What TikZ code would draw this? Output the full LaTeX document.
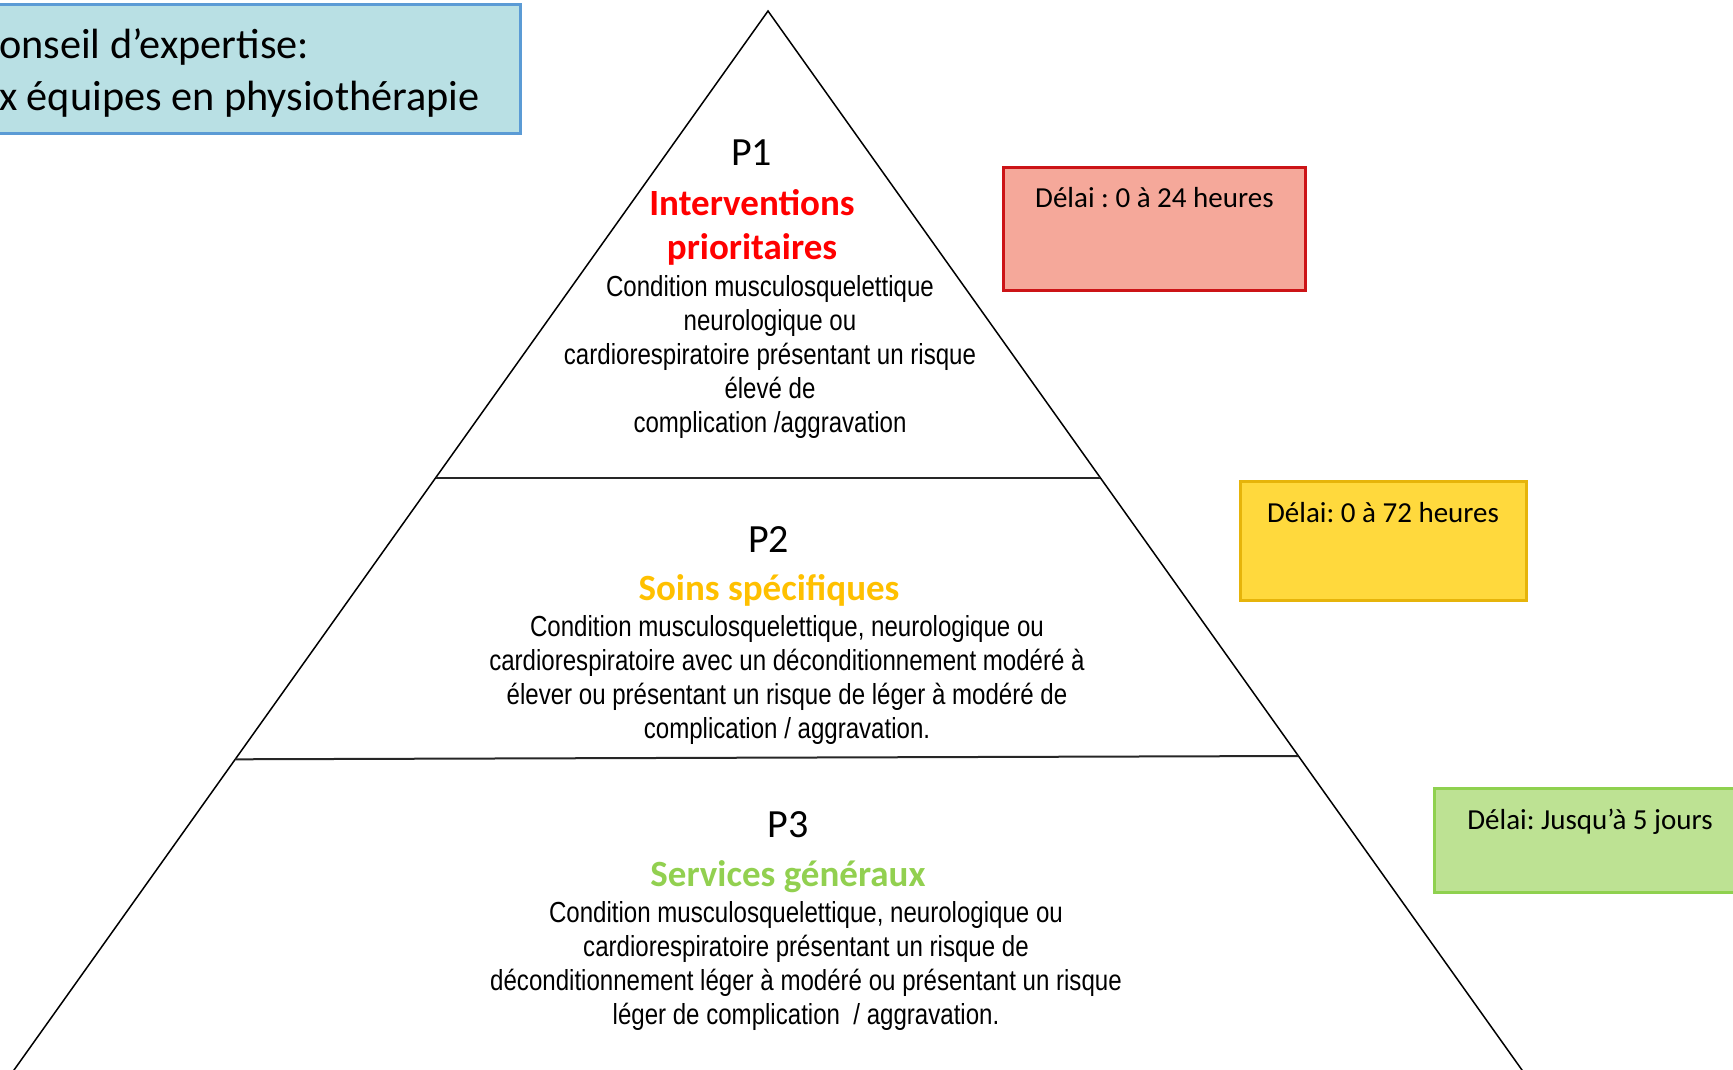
\documentclass[tikz,border=0pt]{standalone}
\usepackage{fontspec}
\setmainfont{Carlito}
\newfontfamily\narrowfont[FakeStretch=0.83]{Liberation Sans}
\frenchspacing
\definecolor{tlfill}{HTML}{B9E0E4}
\definecolor{tlborder}{HTML}{5B9BD5}
\definecolor{rfill}{HTML}{F5A89A}
\definecolor{rborder}{HTML}{CC1417}
\definecolor{yfill}{HTML}{FFD93D}
\definecolor{yborder}{HTML}{E6B40A}
\definecolor{gfill}{HTML}{BDE293}
\definecolor{gborder}{HTML}{8FD14F}
\definecolor{titred}{HTML}{FF0000}
\definecolor{tityellow}{HTML}{FFC000}
\definecolor{titgreen}{HTML}{92D050}
\begin{document}
\begin{tikzpicture}[x=1pt,y=-1pt,
  every node/.style={inner sep=0pt, outer sep=0pt},
  bodytext/.style={font=\narrowfont\fontsize{29}{34}\selectfont, align=center, anchor=north},
  plabel/.style={font=\fontsize{40}{48}\selectfont, anchor=base},
  ptitle/.style={font=\bfseries\fontsize{37}{44}\selectfont, anchor=base},
  delaibox/.style={line width=3pt},
  delaitext/.style={font=\fontsize{29}{35}\selectfont, anchor=base},
  pyr/.style={line width=1.5pt, black},
  sep/.style={line width=2pt, black!85}
]
\useasboundingbox (0,0) rectangle (1733,1070);
\begin{scope}
\clip (0,0) rectangle (1733,1070);

% top-left box
\draw[fill=tlfill, draw=tlborder, line width=2.5pt] (-20,4.5) rectangle (520.5,133.5);
\node[anchor=base west, font=\fontsize{42.3}{52}\selectfont] (cl1) at (-1,58.5) {onseil d’expertise:};
\node[anchor=base west, font=\fontsize{42.3}{52}\selectfont] (cl2) at (-1,110.5) {x équipes en physiothérapie};

% pyramid
\coordinate (apex) at (768,11);
\coordinate (bl) at (6.9,1080);
\coordinate (br) at (1529.1,1080);
\draw[pyr] (bl) -- (apex) -- (br);
\coordinate (s1l) at (436.2,477.5);
\coordinate (s1r) at (1099.8,477.5);
\coordinate (s2l) at (235.4,759.3);
\coordinate (s2r) at (1298.4,756);
\draw[sep] (s1l) -- (s1r);
\draw[sep] (s2l) -- (s2r);

% P1
\node[plabel] (p1) at (751.6,165.8) {P1};
\node[ptitle, text=titred] (p1t1) at (752,215) {Interventions};
\node[ptitle, text=titred] (p1t2) at (752,259.5) {prioritaires};
\node[bodytext] (p1b) at (770,275) {Condition musculosquelettique\\neurologique ou\\cardiorespiratoire présentant un risque\\élevé de\\complication /aggravation};

% P2
\node[plabel] (p2) at (768.5,552.6) {P2};
\node[ptitle, text=tityellow] (p2t) at (769,600) {Soins spécifiques};
\node[bodytext] (p2b) at (787,615) {Condition musculosquelettique, neurologique ou\\cardiorespiratoire avec un déconditionnement modéré à\\élever ou présentant un risque de léger à modéré de\\complication / aggravation.};

% P3
\node[plabel] (p3) at (788,837.7) {P3};
\node[ptitle, text=titgreen] (p3t) at (788,886) {Services généraux};
\node[bodytext] (p3b) at (806,901.5) {Condition musculosquelettique, neurologique ou\\cardiorespiratoire présentant un risque de\\déconditionnement léger à modéré ou présentant un risque\\léger de complication \ / aggravation.};

% delay boxes
\draw[delaibox, fill=rfill, draw=rborder] (1003.5,168) rectangle (1305,290.5);
\node[delaitext] (d1) at (1154.4,207.8) {Délai : 0 à 24 heures};
\draw[delaibox, fill=yfill, draw=yborder] (1240,481) rectangle (1526,600);
\node[delaitext] (d2) at (1383,522.8) {Délai: 0 à 72 heures};
\draw[delaibox, fill=gfill, draw=gborder] (1434.6,788.5) rectangle (1760,892);
\node[delaitext] (d3) at (1590,829) {Délai: Jusqu’à 5 jours};
\end{scope}
\end{tikzpicture}
\end{document}
